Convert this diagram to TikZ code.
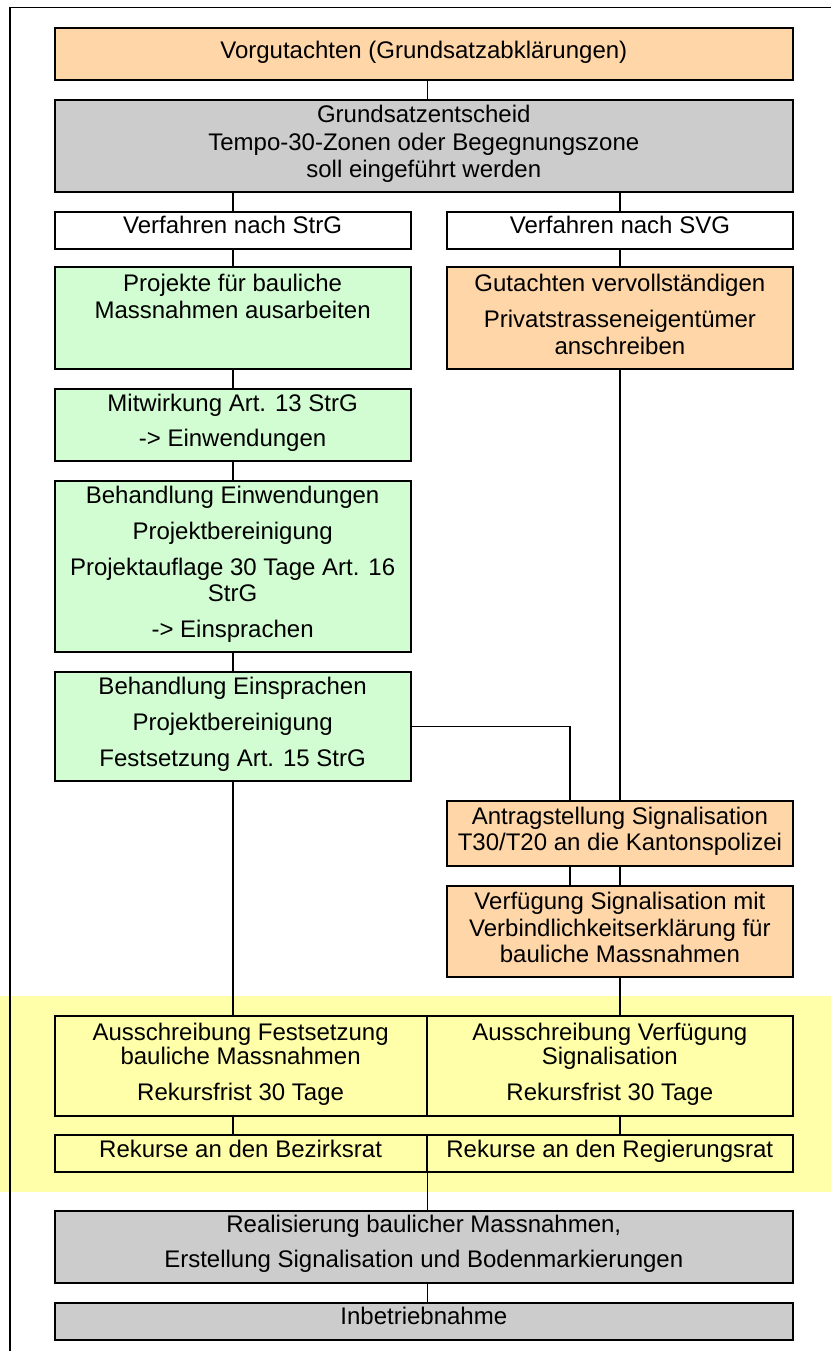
\documentclass[tikz,border=0pt]{standalone}
\usepackage{fontspec}
\setmainfont{Liberation Sans}
\usetikzlibrary{fit}
\definecolor{peach}{HTML}{FFD6A8}
\definecolor{greybox}{HTML}{CCCCCC}
\definecolor{greenbox}{HTML}{D2FDD2}
\definecolor{yellowbox}{HTML}{FFFFAA}
\begin{document}
\begin{tikzpicture}[x=0.5pt,y=-0.5pt,
  box/.style={draw=black,line width=1pt,inner sep=0pt},
  conn/.style={draw=black,line width=0.85pt},
  txt/.style={inner sep=0pt,anchor=base,font=\fontsize{12}{14}\selectfont}]
\useasboundingbox (0,0) rectangle (831,1351);
% yellow band
\fill[yellowbox] (0,996) rectangle (831,1191.7);
% frame
\draw[line width=0.9pt] (9.8,1351) -- (9.8,7.5) -- (831,7.5);
% boxes
\node[box,fill=peach,fit={(54.6,28) (793,80)}] (A) {};
\node[box,fill=greybox,fit={(54.6,100) (793,191.7)}] (B) {};
\node[box,fill=white,fit={(54.6,211.7) (410.7,249)}] (C1) {};
\node[box,fill=white,fit={(446.7,211.7) (793,249)}] (C2) {};
\node[box,fill=greenbox,fit={(54.6,267) (410.7,369)}] (D1) {};
\node[box,fill=peach,fit={(446.7,267) (793,369)}] (D2) {};
\node[box,fill=greenbox,fit={(54.6,389) (410.7,461)}] (E) {};
\node[box,fill=greenbox,fit={(54.6,480.7) (410.7,651.7)}] (F) {};
\node[box,fill=greenbox,fit={(54.6,671.7) (410.7,781)}] (G) {};
\node[box,fill=peach,fit={(446.7,801) (793,866)}] (H) {};
\node[box,fill=peach,fit={(446.7,886) (793,976.7)}] (I) {};
\node[box,fill=yellowbox,fit={(54.6,1016) (426.6,1116)}] (J1) {};
\node[box,fill=yellowbox,fit={(426.6,1016) (793,1116)}] (J2) {};
\node[box,fill=yellowbox,fit={(54.6,1135) (426.6,1171.7)}] (K1) {};
\node[box,fill=yellowbox,fit={(426.6,1135) (793,1171.7)}] (K2) {};
\node[box,fill=greybox,fit={(54.6,1211) (793,1282.7)}] (L) {};
\node[box,fill=greybox,fit={(54.6,1302.7) (793,1340)}] (M) {};
\coordinate (hx) at (569.7,0);
% texts
\node[txt] (tA) at (423.8,58) {Vorgutachten (Grundsatzabklärungen)};
\node[txt] (tB1) at (423.8,122.5) {Grundsatzentscheid};
\node[txt] (tB2) at (423.8,150) {Tempo-30-Zonen oder Begegnungszone};
\node[txt] (tB3) at (423.8,177) {soll eingeführt werden};
\node[txt] (tC1) at (232.6,233.5) {Verfahren nach StrG};
\node[txt] (tC2) at (619.9,233.5) {Verfahren nach SVG};
\node[txt] (tD11) at (232.6,291.5) {Projekte für bauliche};
\node[txt] (tD12) at (232.6,318.5) {Massnahmen ausarbeiten};
\node[txt] (tD21) at (619.9,291.5) {Gutachten vervollständigen};
\node[txt] (tD22) at (619.9,327.3) {Privatstrasseneigentümer};
\node[txt] (tD23) at (619.9,354) {anschreiben};
\node[txt] (tE1) at (232.6,411.7) {Mitwirkung Art. 13 StrG};
\node[txt] (tE2) at (232.6,446) {-> Einwendungen};
\node[txt] (tF1) at (232.6,503.3) {Behandlung Einwendungen};
\node[txt] (tF2) at (232.6,539.3) {Projektbereinigung};
\node[txt] (tF3) at (232.6,575) {Projektauflage 30 Tage Art. 16};
\node[txt] (tF4) at (232.6,601.7) {StrG};
\node[txt] (tF5) at (232.6,637.7) {-> Einsprachen};
\node[txt] (tG1) at (232.6,694.3) {Behandlung Einsprachen};
\node[txt] (tG2) at (232.6,730.7) {Projektbereinigung};
\node[txt] (tG3) at (232.6,766) {Festsetzung Art. 15 StrG};
\node[txt] (tH1) at (619.9,824) {Antragstellung Signalisation};
\node[txt] (tH2) at (619.9,850) {T30/T20 an die Kantonspolizei};
\node[txt] (tI1) at (619.9,909.3) {Verfügung Signalisation mit};
\node[txt] (tI2) at (619.9,936) {Verbindlichkeitserklärung für};
\node[txt] (tI3) at (619.9,962.7) {bauliche Massnahmen};
\node[txt] (tJ11) at (240.6,1040) {Ausschreibung Festsetzung};
\node[txt] (tJ12) at (240.6,1064) {bauliche Massnahmen};
\node[txt] (tJ13) at (240.6,1100.7) {Rekursfrist 30 Tage};
\node[txt] (tJ21) at (609.8,1040) {Ausschreibung Verfügung};
\node[txt] (tJ22) at (609.8,1064) {Signalisation};
\node[txt] (tJ23) at (609.8,1100.7) {Rekursfrist 30 Tage};
\node[txt] (tK1) at (240.6,1157.3) {Rekurse an den Bezirksrat};
\node[txt] (tK2) at (609.8,1157.3) {Rekurse an den Regierungsrat};
\node[txt] (tL1) at (423.8,1232.3) {Realisierung baulicher Massnahmen,};
\node[txt] (tL2) at (423.8,1267.3) {Erstellung Signalisation und Bodenmarkierungen};
\node[txt] (tM) at (423.8,1324) {Inbetriebnahme};
% connectors
\draw[conn] (A.south -| K1.east) -- (B.north -| K1.east);
\draw[conn] (B.south -| C1.north) -- (C1.north);
\draw[conn] (B.south -| C2.north) -- (C2.north);
\draw[conn] (C1.south) -- (D1.north);
\draw[conn] (D1.south) -- (E.north);
\draw[conn] (E.south) -- (F.north);
\draw[conn] (F.south) -- (G.north);
\draw[conn] (C2.south) -- (D2.north);
\draw[conn] (D2.south) -- (H.north);
\draw[conn] (G.east) -| (H.north -| hx);
\draw[conn] (H.south -| hx) -- (I.north -| hx);
\draw[conn] (H.south) -- (I.north);
\draw[conn] (G.south) -- (G.south |- J1.north);
\draw[conn] (I.south) -- (I.south |- J2.north);
\draw[conn] (J1.south -| G.south) -- (K1.north -| G.south);
\draw[conn] (J2.south -| I.south) -- (K2.north -| I.south);
\draw[conn] (K1.south east) -- (L.north -| K1.east);
\draw[conn] (L.south -| K1.east) -- (M.north -| K1.east);
\end{tikzpicture}
\end{document}
